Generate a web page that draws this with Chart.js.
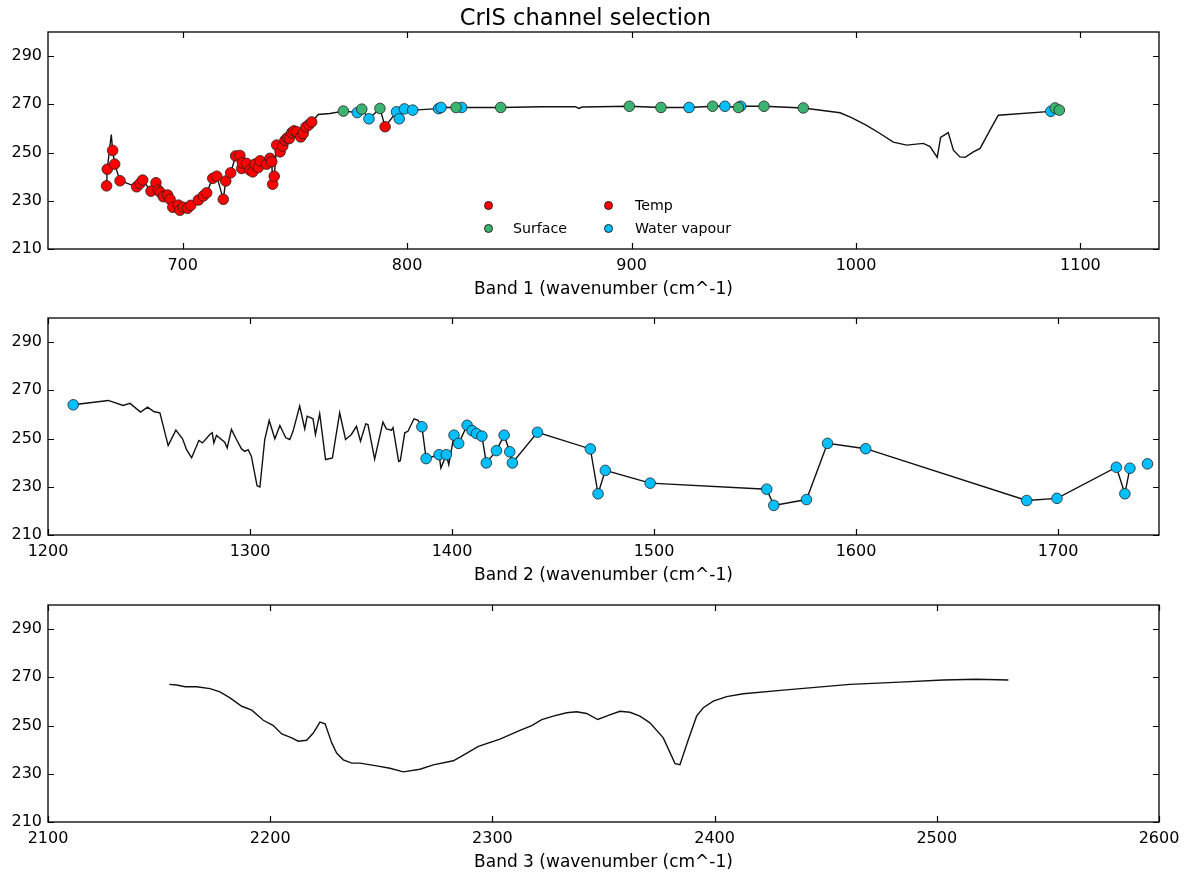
<!DOCTYPE html>
<html>
<head>
<meta charset="utf-8">
<script src="https://cdn.jsdelivr.net/npm/chart.js@4/dist/chart.umd.min.js"></script>
<style>
  html, body { margin: 0; padding: 0; background: #fff; overflow: hidden; }
  body { width: 1189px; height: 879px; position: relative; font-family: "DejaVu Sans", sans-serif; }
  .panel { position: absolute; left: 0; width: 1189px; height: 310px; }
  .title { position: absolute; left: -9px; width: 1189px; top: 3px; text-align: center; font-family: "DejaVu Sans", sans-serif; font-size: 22.6px; line-height: 28px; color: #000; }
  .legend { position: absolute; font-family: "DejaVu Sans", sans-serif; font-size: 14.2px; color: #000; }
  .legend .item { position: absolute; white-space: nowrap; line-height: 16px; }
  .legend .dot { position: absolute; width: 7px; height: 7px; border-radius: 50%; border: 0.8px solid #222; }
</style>
</head>
<body>
<div class="panel" style="top:0px"><canvas id="c1"></canvas></div>
<div class="panel" style="top:286px"><canvas id="c2"></canvas></div>
<div class="panel" style="top:573px"><canvas id="c3"></canvas></div>
<div class="title" id="title"></div>
<div class="legend" id="legend"></div>
<script>
// ---------------- DATA ----------------
const chartTitle = 'CrIS channel selection';
const axisTitles = ['Band 1 (wavenumber (cm^-1)', 'Band 2 (wavenumber (cm^-1)', 'Band 3 (wavenumber (cm^-1)'];
const yTicks = [210, 230, 250, 270, 290];
const band1Ticks = [700, 800, 900, 1000, 1100];
const band2Ticks = [1200, 1300, 1400, 1500, 1600, 1700];
const band3Ticks = [2100, 2200, 2300, 2400, 2500, 2600];

// Band 1: temperature channels (red)
const band1TempX = [666.1, 666.4, 668.8, 669.7, 672.1, 679.5, 681.0, 682.2, 685.9, 688.1, 689.1, 690.0, 691.4, 693.3, 694.4, 695.6, 698.1, 698.8, 700.3, 702.2, 703.6, 707.0, 709.2, 710.7, 713.4, 715.2, 718.1, 719.2, 721.4, 723.6, 725.5, 726.3, 726.6, 728.5, 730.0, 731.2, 732.2, 733.7, 734.5, 737.4, 738.9, 739.7, 740.1, 740.8, 741.9, 743.4, 744.6, 745.6, 746.6, 747.5, 748.6, 749.6, 750.8, 752.6, 753.7, 754.9, 756.2, 757.5, 790.2];
const band1TempY = [236.2, 243.1, 250.9, 245.2, 238.3, 235.8, 237.2, 238.6, 234.0, 237.5, 234.4, 233.5, 231.7, 232.4, 230.6, 227.3, 228.2, 226.1, 227.3, 226.9, 228.1, 230.3, 232.0, 233.3, 239.3, 240.2, 230.6, 238.2, 241.6, 248.6, 248.8, 243.4, 245.7, 245.5, 242.7, 242.0, 245.2, 243.8, 246.6, 245.2, 247.6, 246.2, 236.9, 240.2, 253.1, 250.3, 252.7, 255.1, 256.1, 255.8, 258.2, 259.0, 258.6, 256.5, 257.9, 260.6, 261.5, 262.7, 260.7];
// Band 1: surface channels (green)
const band1SurfX = [771.6, 779.8, 787.9, 821.8, 841.7, 899.0, 913.1, 936.1, 947.6, 959.0, 976.5, 1088.7, 1090.6];
const band1SurfY = [267.2, 268.0, 268.3, 268.7, 268.7, 269.2, 268.7, 269.2, 268.7, 269.2, 268.5, 268.5, 267.6];
// Band 1: water vapour channels (blue)
const band1WvX = [777.8, 783.0, 795.3, 796.5, 798.8, 802.5, 814.0, 815.1, 824.3, 925.6, 941.6, 948.6, 1086.8];
const band1WvY = [266.6, 264.0, 266.9, 264.0, 268.1, 267.6, 268.2, 268.7, 268.7, 268.7, 269.2, 269.2, 267.1];
// Band 1: spectrum vertices between selected channels
const band1LineX = [668.2, 760.4, 765.6, 860.0, 875.0, 876.5, 878.0, 992.9, 998.0, 1004.7, 1010.7, 1016.6, 1022.6, 1030.0, 1033.0, 1036.2, 1037.7, 1041.1, 1043.4, 1046.3, 1048.6, 1052.3, 1055.3, 1059.7, 1063.4];
const band1LineY = [257.5, 265.8, 266.2, 269.0, 269.0, 268.3, 268.9, 266.5, 264.5, 261.3, 257.9, 254.3, 253.1, 253.8, 252.5, 248.0, 256.3, 258.3, 251.0, 248.2, 248.0, 250.3, 251.7, 259.3, 265.5];

// Band 2: water vapour channels (blue)
const band2WvX = [1212.5, 1385.1, 1387.2, 1393.6, 1397.2, 1401.0, 1403.3, 1407.5, 1409.9, 1412.1, 1414.8, 1417.0, 1422.0, 1425.8, 1428.6, 1429.9, 1442.3, 1468.5, 1472.3, 1475.9, 1498.1, 1555.8, 1559.3, 1575.5, 1585.9, 1604.8, 1684.5, 1699.5, 1728.9, 1733.1, 1735.6, 1744.3];
const band2WvY = [264.0, 254.9, 241.7, 243.3, 243.3, 251.4, 248.0, 255.5, 253.3, 252.1, 251.0, 239.9, 245.0, 251.4, 244.5, 239.9, 252.6, 245.7, 227.1, 236.8, 231.5, 229.0, 222.3, 224.7, 248.0, 245.8, 224.3, 225.2, 238.1, 227.1, 237.7, 239.5];
const band2LineEnd = 1736;
// Band 2: spectrum vertices
const band2LineX = [1229.8, 1237.2, 1240.6, 1245.8, 1249.3, 1252.6, 1255.4, 1259.5, 1263.3, 1266.6, 1268.6, 1271.1, 1274.7, 1276.5, 1280.1, 1281.3, 1282.1, 1283.4, 1287.5, 1288.7, 1290.8, 1293.3, 1295.8, 1297.4, 1299.1, 1300.7, 1303.5, 1304.9, 1307.3, 1309.5, 1312.3, 1314.8, 1317.7, 1319.7, 1321.3, 1324.6, 1327.1, 1328.3, 1331.2, 1332.4, 1334.5, 1337.4, 1340.8, 1344.4, 1347.3, 1350.2, 1352.7, 1354.7, 1357.3, 1358.4, 1361.7, 1365.8, 1367.5, 1370.0, 1370.8, 1373.6, 1374.4, 1376.6, 1378.2, 1381.2, 1383.2, 1394.5, 1398.4];
const band2LineY = [265.8, 263.7, 264.6, 261.0, 263.0, 261.1, 260.7, 247.1, 253.5, 249.9, 245.4, 242.0, 249.2, 248.2, 251.7, 252.4, 248.2, 251.3, 248.5, 246.1, 253.8, 249.6, 245.7, 244.7, 245.4, 242.6, 230.4, 229.9, 249.6, 257.5, 249.9, 255.4, 250.3, 249.6, 253.0, 263.5, 254.0, 259.3, 258.2, 251.7, 260.3, 241.3, 242.0, 260.7, 249.6, 251.7, 255.1, 248.9, 256.1, 255.8, 241.5, 256.8, 254.0, 253.5, 254.5, 240.5, 240.8, 252.4, 253.0, 258.2, 257.6, 237.8, 239.2];

// Band 3: spectrum
const band3LineX = [2154.6, 2157.9, 2161.7, 2166.9, 2172.9, 2177.4, 2181.9, 2187.2, 2191.7, 2196.9, 2201.4, 2205.2, 2209.7, 2212.6, 2216.4, 2219.4, 2222.4, 2224.7, 2227.7, 2229.9, 2232.9, 2236.7, 2240.4, 2247.9, 2253.9, 2259.9, 2267.4, 2273.4, 2282.4, 2285.4, 2293.7, 2303.4, 2312.4, 2317.7, 2322.2, 2327.4, 2333.4, 2337.9, 2342.4, 2347.4, 2352.2, 2357.4, 2361.9, 2366.4, 2370.9, 2376.9, 2382.2, 2384.4, 2388.2, 2391.9, 2394.9, 2399.4, 2405.4, 2412.9, 2430.9, 2460.9, 2483.4, 2502.9, 2517.9, 2532.2];
const band3LineY = [267.1, 266.8, 266.1, 266.1, 265.3, 264.0, 261.5, 258.0, 256.4, 252.2, 250.0, 246.5, 244.9, 243.5, 243.9, 246.9, 251.4, 250.7, 242.8, 238.6, 235.8, 234.4, 234.4, 233.3, 232.3, 230.8, 231.9, 233.7, 235.4, 236.9, 241.4, 244.4, 248.0, 250.0, 252.5, 253.9, 255.3, 255.7, 255.0, 252.5, 254.2, 255.9, 255.5, 253.9, 251.1, 244.9, 234.2, 233.8, 244.2, 253.9, 257.4, 260.1, 262.0, 263.2, 264.7, 267.1, 268.0, 268.9, 269.2, 268.9];

const legendLabels = ['', 'Surface', 'Temp', 'Water vapour'];
const colTemp = '#ff0000', colSurf = '#3cb371', colWv = '#00bfff';
const legendColors = [colTemp, colSurf, colTemp, colWv];

// ---------------- HELPERS ----------------
function pts(xs, ys) { return xs.map((x, i) => ({ x: x, y: ys[i] })); }
function mergeLine(parts, endX) {
  let all = [];
  parts.forEach(p => { all = all.concat(pts(p[0], p[1])); });
  all = all.filter(p => p.x <= endX);
  all.sort((a, b) => a.x - b.x);
  return all;
}

const frameTicks = {
  id: 'frameTicks',
  afterDatasetsDraw(chart) {
    const ctx = chart.ctx, a = chart.chartArea;
    const xs = chart.scales.x, ys = chart.scales.y;
    const L = 6;
    ctx.save();
    ctx.strokeStyle = '#000';
    ctx.lineWidth = 1.2;
    ctx.beginPath();
    xs.ticks.forEach(t => {
      const px = Math.round(xs.getPixelForValue(t.value)) + 0.5;
      ctx.moveTo(px, a.bottom); ctx.lineTo(px, a.bottom - L);
      ctx.moveTo(px, a.top); ctx.lineTo(px, a.top + L);
    });
    ys.ticks.forEach(t => {
      const py = Math.round(ys.getPixelForValue(t.value)) + 0.5;
      ctx.moveTo(a.left, py); ctx.lineTo(a.left + L, py);
      ctx.moveTo(a.right, py); ctx.lineTo(a.right - L, py);
    });
    ctx.stroke();
    ctx.lineWidth = 1.3;
    ctx.strokeRect(a.left, a.top, a.right - a.left, a.bottom - a.top);
    ctx.restore();
  }
};

function dotSet(data, color) {
  return {
    type: 'scatter', data: data, backgroundColor: color, borderColor: '#222',
    borderWidth: 0.8, pointRadius: 5.3, pointHoverRadius: 5.3, order: 1
  };
}
function lineSet(data) {
  return {
    type: 'line', data: data, borderColor: '#111', borderWidth: 1.4, pointRadius: 0,
    fill: false, tension: 0, order: 10
  };
}

function makeChart(id, datasets, xmin, xmax, xticks, xtitle) {
  const tickFont = { family: 'DejaVu Sans', size: 16 };
  return new Chart(document.getElementById(id), {
    type: 'scatter',
    data: { datasets: datasets },
    options: {
      responsive: true, maintainAspectRatio: false, animation: false,
      events: [],
      layout: { padding: { left: 0, right: 30, top: 32, bottom: 0 } },
      plugins: { legend: { display: false }, tooltip: { enabled: false }, title: { display: false } },
      scales: {
        x: {
          type: 'linear', min: xmin, max: xmax,
          afterBuildTicks: s => { s.ticks = xticks.map(v => ({ value: v })); },
          afterFit: s => { s.height = 61; },
          grid: { display: false, drawTicks: false }, border: { display: false },
          ticks: { color: '#000', font: tickFont, padding: 7, maxRotation: 0, autoSkip: false, callback: v => String(v) },
          title: { display: true, text: xtitle, color: '#000', font: { family: 'DejaVu Sans', size: 17 }, padding: { top: 0, bottom: 10 } }
        },
        y: {
          type: 'linear', min: 210, max: 300,
          afterBuildTicks: s => { s.ticks = yTicks.map(v => ({ value: v })); },
          afterFit: s => { s.width = 48; },
          grid: { display: false, drawTicks: false }, border: { display: false },
          ticks: { color: '#000', font: tickFont, padding: 6, callback: v => String(v) }
        }
      }
    },
    plugins: [frameTicks]
  });
}

// ---------------- CHARTS ----------------
document.getElementById('title').textContent = chartTitle;

makeChart('c1', [
  lineSet(mergeLine([[band1LineX, band1LineY], [band1TempX, band1TempY], [band1SurfX, band1SurfY], [band1WvX, band1WvY]], Infinity)),
  dotSet(pts(band1TempX, band1TempY), colTemp),
  dotSet(pts(band1SurfX, band1SurfY), colSurf),
  dotSet(pts(band1WvX, band1WvY), colWv)
], 640, 1135, band1Ticks, axisTitles[0]);

makeChart('c2', [
  lineSet(mergeLine([[band2LineX, band2LineY], [band2WvX, band2WvY]], band2LineEnd)),
  dotSet(pts(band2WvX, band2WvY), colWv)
], 1200, 1750, band2Ticks, axisTitles[1]);

makeChart('c3', [
  lineSet(mergeLine([[band3LineX, band3LineY]], Infinity))
], 2100, 2600, band3Ticks, axisTitles[2]);

// ---------------- LEGEND (2 columns, column-major) ----------------
(function () {
  const leg = document.getElementById('legend');
  const colX = [488, 608], textX = [513, 635], rowY = [205, 228];
  legendLabels.forEach((lab, i) => {
    const col = Math.floor(i / 2), row = i % 2;
    const d = document.createElement('div');
    d.className = 'dot';
    d.style.background = legendColors[i];
    d.style.left = (colX[col] - 4.3) + 'px';
    d.style.top = (rowY[row] - 4.3) + 'px';
    leg.appendChild(d);
    if (lab) {
      const t = document.createElement('div');
      t.className = 'item';
      t.textContent = lab;
      t.style.left = textX[col] + 'px';
      t.style.top = (rowY[row] - 8.5) + 'px';
      leg.appendChild(t);
    }
  });
})();
</script>
</body>
</html>
